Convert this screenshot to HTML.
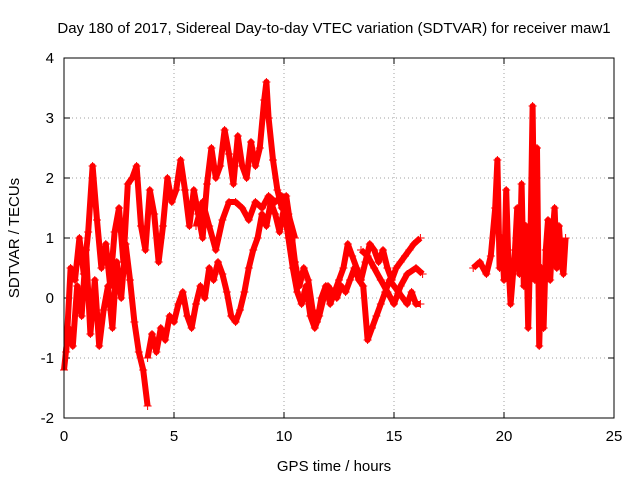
<!DOCTYPE html>
<html><head><meta charset="utf-8"><style>
body{margin:0;background:#fff;}
svg{display:block;font-family:"Liberation Sans",sans-serif;}
</style></head><body>
<svg id="chart" width="640" height="480" viewBox="0 0 640 480">
<rect width="640" height="480" fill="#fff"/>
<text x="334" y="33" font-size="15" text-anchor="middle">Day 180 of 2017, Sidereal Day-to-day VTEC variation (SDTVAR) for receiver maw1</text>
<text x="334" y="471" font-size="15" text-anchor="middle">GPS time / hours</text>
<text x="19" y="238" font-size="15" text-anchor="middle" transform="rotate(-90 19 238)">SDTVAR / TECUs</text>
<g id="grid"></g>
<g id="axes"></g>
<g id="marks"></g>
<rect x="64" y="58" width="550" height="360" fill="none" stroke="#000" stroke-width="1"/>
</svg>
<script>
const xTicks=[0,5,10,15,20,25];
const yTicks=[-2,-1,0,1,2,3,4];
const trackA=[[0,-1.2],[0.2,-0.5],[0.4,-0.8],[0.6,0.2],[0.8,-0.3],[1.0,0.8],[1.2,-0.6],[1.4,0.3],[1.6,-0.8],[1.8,-0.2],[2.0,0.2],[2.2,-0.5],[2.4,0.6],[2.6,0.0],[2.8,0.9],[3.0,0.3],[3.2,-0.4],[3.4,-0.9],[3.6,-1.2],[3.8,-1.8]];
const trackB=[[0.1,-0.9],[0.3,0.5],[0.5,0.3],[0.7,1.0],[0.9,0.4],[1.1,1.1],[1.3,2.2],[1.5,1.3],[1.7,0.5],[1.9,0.9],[2.1,0.2],[2.3,1.1],[2.5,1.5],[2.7,0.6],[2.9,1.9],[3.1,2.0],[3.3,2.2],[3.5,1.2],[3.7,0.8],[3.9,1.8],[4.1,1.4],[4.3,0.6],[4.5,1.2],[4.7,2.0],[4.9,1.6],[5.1,1.8],[5.3,2.3],[5.5,1.8],[5.7,1.2],[5.9,1.8],[6.1,1.4],[6.3,1.0],[6.5,1.9],[6.7,2.5],[6.9,2.0],[7.1,2.2],[7.3,2.8],[7.5,2.4],[7.7,1.9],[7.9,2.7],[8.1,2.2],[8.3,2.0],[8.5,2.6],[8.7,2.2],[8.9,2.5],[9.1,3.3],[9.2,3.6],[9.3,3.0],[9.5,2.3],[9.7,1.8],[9.9,1.5],[10.1,1.7],[10.3,1.2],[10.5,0.6],[10.7,0.2],[10.9,0.5],[11.1,0.3],[11.3,-0.2],[11.5,-0.4],[11.7,0.0],[11.9,0.2],[12.1,-0.1],[12.3,0.1],[12.5,0.3],[12.7,0.5],[12.9,0.9],[13.1,0.7],[13.3,0.5],[13.5,0.3],[13.7,0.6],[13.9,0.9],[14.1,0.8],[14.3,0.6],[14.5,0.8],[14.7,0.5],[14.9,0.3],[15.1,0.5],[15.3,0.6],[15.5,0.7],[15.7,0.8],[15.9,0.9],[16.2,1.0]];
const trackC=[[3.8,-1.0],[4.0,-0.6],[4.2,-0.9],[4.4,-0.5],[4.6,-0.7],[4.8,-0.3],[5.0,-0.4],[5.2,-0.1],[5.4,0.1],[5.6,-0.3],[5.8,-0.5],[6.0,-0.1],[6.2,0.2],[6.4,0.0],[6.6,0.5],[6.8,0.3],[7.0,0.6],[7.2,0.4],[7.4,0.1],[7.6,-0.3],[7.8,-0.4],[8.0,-0.2],[8.2,0.1],[8.4,0.5],[8.6,0.8],[8.8,1.0],[9.0,1.4],[9.2,1.2],[9.4,1.6],[9.6,1.4],[9.8,1.1],[10.0,1.5],[10.2,1.0],[10.4,0.5],[10.6,0.1],[10.8,-0.1],[11.0,0.2],[11.2,-0.3],[11.4,-0.5],[11.6,-0.3],[11.8,0.0],[12.0,0.2],[12.2,0.1],[12.4,0.0],[12.6,0.2],[12.8,0.1],[13.0,0.3],[13.2,0.5],[13.4,0.3],[13.6,0.2],[13.8,-0.7],[14.0,-0.5],[14.2,-0.3],[14.4,-0.1],[14.6,0.1],[14.8,0.3],[15.0,0.2],[15.2,0.1],[15.4,0.0],[15.6,-0.1],[15.8,0.1],[16.0,-0.1],[16.2,-0.1]];
const trackD=[[6.0,1.2],[6.3,1.6],[6.6,1.2],[6.9,0.8],[7.2,1.3],[7.5,1.6],[7.8,1.6],[8.1,1.5],[8.4,1.3],[8.7,1.6],[9.0,1.5],[9.3,1.7],[9.6,1.6],[9.9,1.7],[10.2,1.4],[10.5,1.0]];
const trackE=[[13.5,0.8],[13.8,0.7],[14.1,0.5],[14.4,0.3],[14.7,0.1],[15.0,-0.1],[15.3,0.2],[15.6,0.4],[16.0,0.5],[16.3,0.4]];
const trackF=[[18.6,0.5],[18.9,0.6],[19.2,0.4],[19.4,0.7],[19.6,1.5],[19.7,2.3],[19.8,0.5],[19.9,1.0],[20.0,0.3],[20.1,1.8],[20.2,0.6],[20.3,-0.1],[20.5,0.8],[20.6,1.5],[20.7,0.4],[20.8,1.9],[20.9,0.2],[21.0,1.2],[21.1,-0.5],[21.2,0.9],[21.3,3.2],[21.4,0.3],[21.5,2.5],[21.6,-0.8],[21.7,0.5],[21.8,-0.5],[21.9,0.8],[22.0,1.3],[22.1,0.3],[22.2,1.0],[22.3,1.5],[22.4,0.5],[22.5,1.2],[22.6,0.6],[22.7,0.4],[22.8,1.0]];
const tracks=[trackA,trackB,trackC,trackD,trackE,trackF];
const NS="http://www.w3.org/2000/svg";
const X0=64,X1=614,Y0=418,Y1=58;
function xs(t){return X0+(t-0)/(25-0)*(X1-X0);}
function ys(v){return Y0-(v+2)/(4+2)*(Y0-Y1);}
function mk(tag,attrs,parent){const e=document.createElementNS(NS,tag);for(const k in attrs)e.setAttribute(k,attrs[k]);parent.appendChild(e);return e;}
const grid=document.getElementById('grid'),axes=document.getElementById('axes'),marks=document.getElementById('marks');
xTicks.forEach(t=>{const x=xs(t);
 if(t>0&&t<25){const g=mk('line',{x1:x,x2:x,y1:Y0,y2:Y1,stroke:'#a0a0a0','stroke-dasharray':'1,3'},grid);
 
 }
 mk('line',{x1:x,x2:x,y1:Y0,y2:Y0-6,stroke:'#000'},axes);
 mk('line',{x1:x,x2:x,y1:Y1,y2:Y1+6,stroke:'#000'},axes);
 const l=mk('text',{x:x,y:Y0+23,'font-size':15,'text-anchor':'middle'},axes);l.textContent=t;
 
 
});
yTicks.forEach(v=>{const y=ys(v);
 if(v>-2&&v<4){const g=mk('line',{x1:X0,x2:X1,y1:y,y2:y,stroke:'#a0a0a0','stroke-dasharray':'1,3'},grid);
 
 }
 mk('line',{x1:X0,x2:X0+6,y1:y,y2:y,stroke:'#000'},axes);
 mk('line',{x1:X1,x2:X1-6,y1:y,y2:y,stroke:'#000'},axes);
 const l=mk('text',{x:X0-10,y:y+5,'font-size':15,'text-anchor':'end'},axes);l.textContent=v;
 
 
});
tracks.forEach((tr,i)=>{
 const pl=mk('polyline',{points:tr.map(p=>xs(p[0])+','+ys(p[1])).join(' '),fill:'none',stroke:'#ff0000','stroke-width':6,'stroke-linejoin':'round'},marks);
 
 
 tr.forEach(p=>{const x=xs(p[0]),y=ys(p[1]);
  const m=mk('path',{d:`M${x-4},${y}H${x+4}M${x},${y-4}V${y+4}`,stroke:'#ff0000','stroke-width':1},marks);
  
  
 });
});
</script>
</body></html>
